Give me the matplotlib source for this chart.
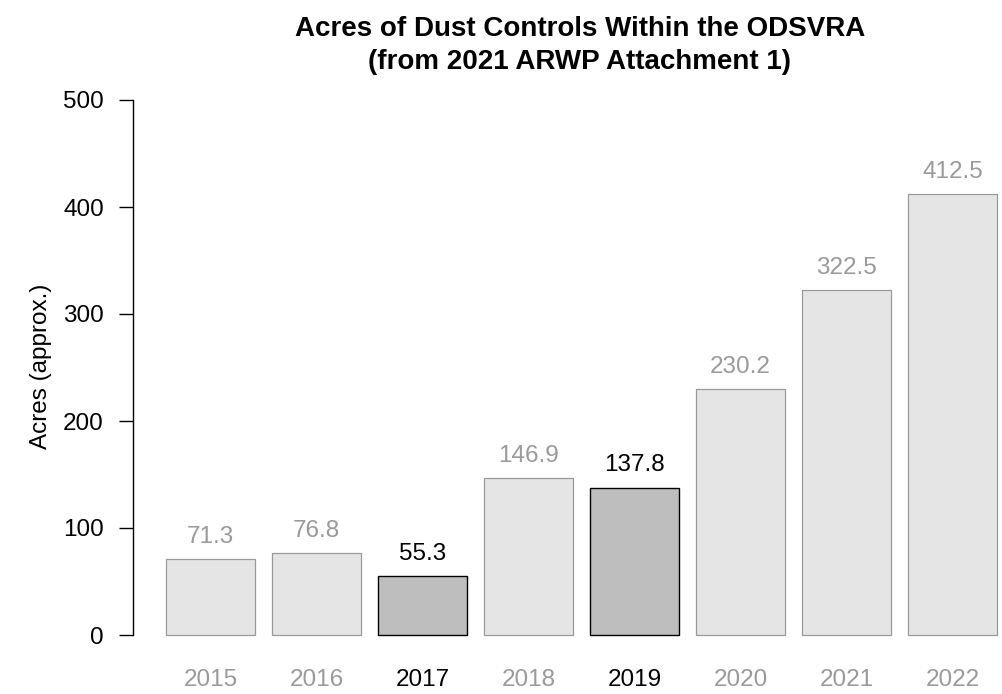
import matplotlib
matplotlib.use("Agg")
import matplotlib.pyplot as plt

plt.rcParams['font.family'] = ['Liberation Sans', 'DejaVu Sans']

years = ["2015", "2016", "2017", "2018", "2019", "2020", "2021", "2022"]
acres = [71.3, 76.8, 55.3, 146.9, 137.8, 230.2, 322.5, 412.5]
highlight = [False, False, True, False, True, False, False, False]
y_ticks = [0, 100, 200, 300, 400, 500]

W, H = 1002, 694
fig = plt.figure(figsize=(W / 100, H / 100), dpi=100)

# plot region in pixel terms: y axis line at x=133, value 0 at y=635, 500 at y=100
left_px, right_px = 133, 1000
bottom_px, top_px = 635, 100
ax = fig.add_axes([left_px / W, (H - bottom_px) / H,
                   (right_px - left_px) / W, (bottom_px - top_px) / H])

step_px = 106.0
first_center_px = 210.5
x0 = -(first_center_px - left_px) / step_px
x1 = x0 + (right_px - left_px) / step_px
ax.set_xlim(x0, x1)
ax.set_ylim(0, 500)

FS = 17.5
xs = list(range(len(years)))
for x, v, hl in zip(xs, acres, highlight):
    face = "#bebebe" if hl else "#e5e5e5"
    edge = "#000000" if hl else "#9a9a9a"
    ax.bar(x, v, width=0.84, color=face, edgecolor=edge,
           linewidth=1.0 if hl else 0.9, clip_on=False)
    ax.annotate(f"{v:.1f}", (x, v), xytext=(0, 8), textcoords="offset points",
                ha="center", va="bottom", fontsize=FS,
                color="#000000" if hl else "#9a9a9a")

# year labels under the bars
for x, yr, hl in zip(xs, years, highlight):
    ax.text(x, -42.5, yr, ha="center", va="center", fontsize=FS,
            color="#000000" if hl else "#9a9a9a", clip_on=False)

for s in ["top", "right", "bottom"]:
    ax.spines[s].set_visible(False)
ax.spines["left"].set_linewidth(1.0)
ax.spines["left"].set_bounds(0, 500)
ax.set_xticks([])
ax.set_yticks(y_ticks)
ax.set_yticklabels([str(t) for t in y_ticks], fontsize=FS)
ax.tick_params(axis="y", length=10, width=1.0, pad=11)
ax.patch.set_visible(False)

fig.text(41 / W, 1 - 366 / H, "Acres (approx.)", rotation=90,
         ha="center", va="center", fontsize=FS)

fig.text(580 / W, 1 - 29 / H, "Acres of Dust Controls Within the ODSVRA",
         ha="center", va="center", fontsize=20, fontweight="bold")
fig.text(580 / W, 1 - 62 / H, "(from 2021 ARWP Attachment 1)",
         ha="center", va="center", fontsize=20, fontweight="bold")

fig.savefig("out.png", dpi=100)
